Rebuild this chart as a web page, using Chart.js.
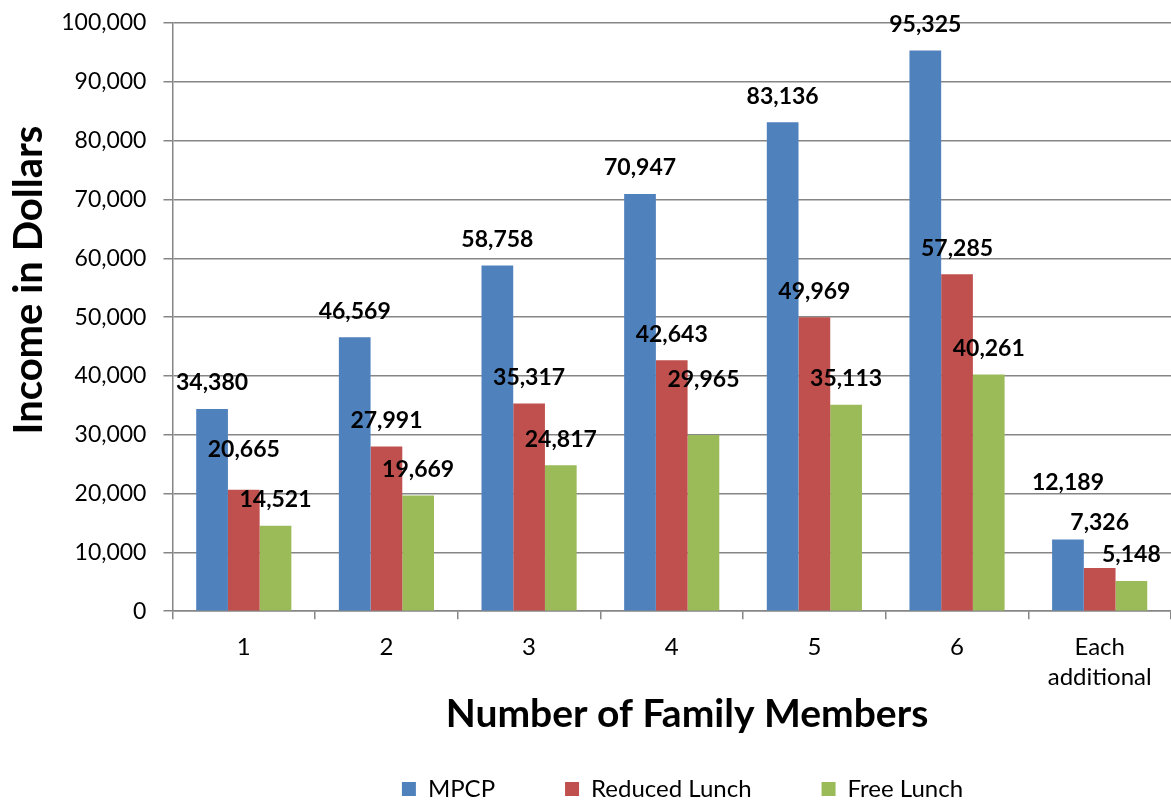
<!DOCTYPE html>
<html>
<head>
<meta charset="utf-8">
<script src="https://cdn.jsdelivr.net/npm/chart.js@4/dist/chart.umd.min.js"></script>
<style>
  html, body { margin: 0; padding: 0; background: #fff; }
  #wrap { width: 1171px; height: 801px; }
</style>
</head>
<body>
<div id="wrap"><canvas id="c" width="1171" height="801"></canvas></div>
<script>
const categories = ['1', '2', '3', '4', '5', '6', ['Each', 'additional']];
const mpcp = [34380, 46569, 58758, 70947, 83136, 95325, 12189];
const reducedLunch = [20665, 27991, 35317, 42643, 49969, 57285, 7326];
const freeLunch = [14521, 19669, 24817, 29965, 35113, 40261, 5148];
const seriesNames = ['MPCP', 'Reduced Lunch', 'Free Lunch'];
const yTicks = [0, 10000, 20000, 30000, 40000, 50000, 60000, 70000, 80000, 90000, 100000];
const yTitleText = 'Income in Dollars';
const xTitleText = 'Number of Family Members';

const FONT = 'Lato, "Open Sans", "DejaVu Sans", sans-serif';
const fmt = v => Number(v).toLocaleString('en-US');

// extra upward lift (px) for individual labels, keyed "dataset-index"
const labelLift = { '1-0': 14, '2-3': 29, '0-6': 31, '1-6': 20 };

const valueLabels = {
  id: 'valueLabels',
  afterDatasetsDraw(chart) {
    const ctx = chart.ctx;
    ctx.save();
    ctx.font = 'bold 23px ' + FONT;
    ctx.fillStyle = '#000';
    ctx.textAlign = 'center';
    ctx.textBaseline = 'middle';
    chart.data.datasets.forEach((ds, di) => {
      const meta = chart.getDatasetMeta(di);
      meta.data.forEach((bar, i) => {
        const lift = labelLift[di + '-' + i] || 0;
        ctx.fillText(fmt(ds.data[i]), bar.x, bar.y - 26 - lift);
      });
    });
    ctx.restore();
  }
};

// axis titles placed as in the original (slightly off the axis centres)
const axisTitles = {
  id: 'axisTitles',
  afterDraw(chart) {
    const ys = chart.scales.y, xs = chart.scales.x;
    const ctx = chart.ctx;
    ctx.save();
    ctx.fillStyle = '#000';
    ctx.textAlign = 'center';
    ctx.textBaseline = 'middle';
    ctx.font = 'bold 39px ' + FONT;
    ctx.fillText(xTitleText, 687, xs.bottom - 23.4);
    ctx.font = 'bold 40px ' + FONT;
    ctx.translate(ys.left + 29, 280);
    ctx.rotate(-Math.PI / 2);
    ctx.fillText(yTitleText, 0, 0);
    ctx.restore();
  }
};

// compact legend height, wide horizontal gaps, shifted like the original
const LEGEND_H = 63, LEGEND_SHIFT_Y = 31, LEGEND_SHIFT_X = 97;
const legendTweak = {
  id: 'legendTweak',
  afterInit(chart) {
    const lg = chart.legend;
    if (!lg || lg._tweaked) return;
    lg._tweaked = true;
    const fit0 = lg.fit.bind(lg);
    lg.fit = function () { fit0(); if (this.isHorizontal()) this.height = LEGEND_H; };
    const draw0 = lg.draw.bind(lg);
    lg.draw = function () {
      const t = this.top, l = this.left, r = this.right;
      this.top = t - LEGEND_SHIFT_Y; this.left = l + LEGEND_SHIFT_X; this.right = r + LEGEND_SHIFT_X;
      draw0();
      this.top = t; this.left = l; this.right = r;
    };
  }
};

new Chart(document.getElementById('c'), {
  type: 'bar',
  data: {
    labels: categories,
    datasets: [
      { label: seriesNames[0], data: mpcp, backgroundColor: '#4F81BD' },
      { label: seriesNames[1], data: reducedLunch, backgroundColor: '#C0504D' },
      { label: seriesNames[2], data: freeLunch, backgroundColor: '#9BBB59' }
    ]
  },
  options: {
    responsive: false,
    animation: false,
    devicePixelRatio: 1,
    layout: { padding: { top: 0, right: 0, left: 0, bottom: 0 } },
    datasets: { bar: { barPercentage: 1.0, categoryPercentage: 0.667 } },
    plugins: {
      legend: {
        position: 'bottom',
        labels: {
          font: { family: FONT, size: 24 },
          color: '#000',
          boxWidth: 14,
          boxHeight: 14,
          padding: 70
        }
      },
      tooltip: { enabled: false }
    },
    scales: {
      x: {
        grid: { drawOnChartArea: false, drawTicks: true, tickLength: 8, offset: true, color: '#868686', lineWidth: 1.5 },
        border: { color: '#868686', width: 1.5 },
        ticks: { font: { family: FONT, size: 24, lineHeight: 1.25 }, color: '#000', padding: 13, maxRotation: 0 },
        title: {
          display: true,
          text: xTitleText,
          font: { family: FONT, size: 39, weight: 'bold', lineHeight: 1.2 },
          color: 'rgba(0,0,0,0)',
          padding: { top: -14, bottom: 0 }
        }
      },
      y: {
        min: 0,
        max: 100000,
        afterBuildTicks: axis => { axis.ticks = yTicks.map(v => ({ value: v })); },
        afterFit: axis => { axis.paddingTop = 23; },
        grid: { color: '#868686', lineWidth: 1.5, tickLength: 9 },
        border: { color: '#868686', width: 1.5 },
        ticks: { font: { family: FONT, size: 23 }, color: '#000', padding: 17, callback: v => fmt(v) },
        title: {
          display: true,
          text: yTitleText,
          font: { family: FONT, size: 36, weight: 'bold', lineHeight: 1.2 },
          color: 'rgba(0,0,0,0)',
          padding: { top: 0, bottom: 1 }
        }
      }
    }
  },
  plugins: [valueLabels, axisTitles, legendTweak]
});
</script>
</body>
</html>
